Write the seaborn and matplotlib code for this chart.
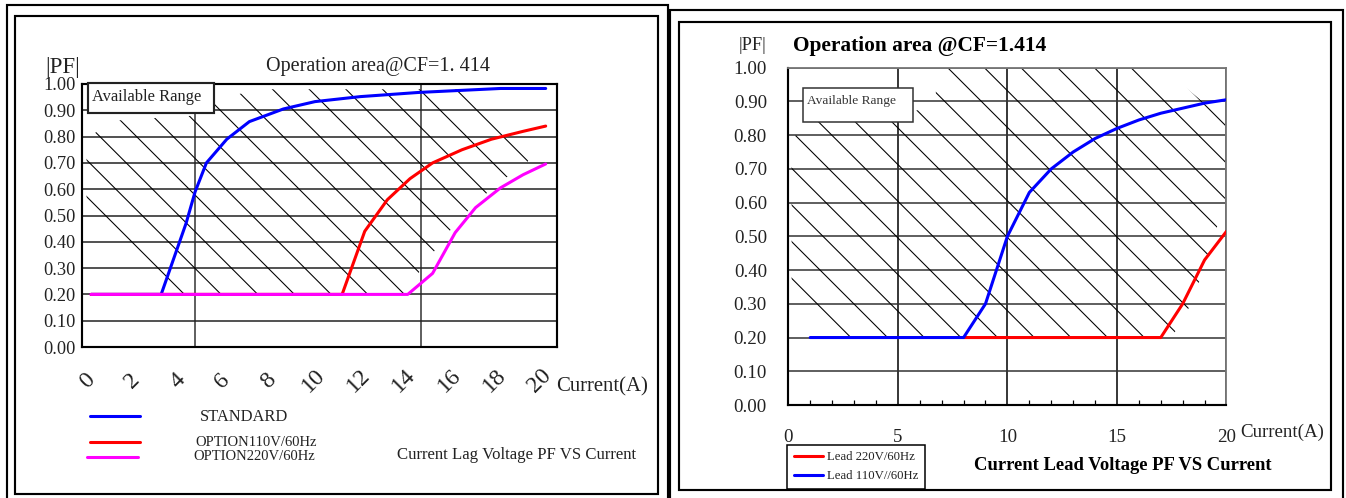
import numpy as np
import pandas as pd
import seaborn as sns
import matplotlib.pyplot as plt
import matplotlib.transforms as mtransforms
from matplotlib.patches import Rectangle
from matplotlib.lines import Line2D

# Left chart: current lag voltage PF vs current
std_x = [0.4, 3.5, 4.6, 5.0, 5.5, 6.4, 7.4, 8.9, 10.3, 12.3, 14.9, 18.5, 20.5]
std_y = [0.20, 0.20, 0.47, 0.59, 0.70, 0.79, 0.857, 0.905, 0.933, 0.952, 0.968, 0.983, 0.983]
opt110_x = [0.4, 11.5, 12.5, 13.5, 14.5, 15.5, 16.8, 18.1, 19.5, 20.5]
opt110_y = [0.20, 0.20, 0.44, 0.56, 0.64, 0.70, 0.75, 0.79, 0.82, 0.84]
opt220_x = [0.4, 14.4, 15.5, 16.5, 17.4, 18.5, 19.5, 20.5]
opt220_y = [0.20, 0.20, 0.28, 0.435, 0.53, 0.605, 0.655, 0.696]
lag_ticks = [0, 2, 4, 6, 8, 10, 12, 14, 16, 18, 20]
# outline of the hatched "available range"
lag_range_x = [0.2, 3.7, 14.4, 15.0, 16.6, 18.45, 19.6, 20.05, 17.2, 7.8, 6.15, 5.0, 1.3, 0.2]
lag_range_y = [0.49, 0.20, 0.20, 0.30, 0.48, 0.63, 0.685, 0.77, 0.98, 0.98, 0.945, 0.88, 0.86, 0.79]

# Right chart: current lead voltage PF vs current
lead110_x = [1, 2, 3, 4, 5, 6, 7, 8, 9, 10, 11, 12, 13, 14, 15, 16, 17, 18, 19, 20]
lead110_y = [0.20, 0.20, 0.20, 0.20, 0.20, 0.20, 0.20, 0.20, 0.30, 0.50,
             0.63, 0.70, 0.75, 0.79, 0.82, 0.845, 0.865, 0.88, 0.895, 0.905]
lead220_x = [8, 9, 10, 11, 12, 13, 14, 15, 16, 17, 18, 19, 20]
lead220_y = [0.20, 0.20, 0.20, 0.20, 0.20, 0.20, 0.20, 0.20, 0.20, 0.20, 0.30, 0.43, 0.515]
lead_ticks = [0, 5, 10, 15, 20]
lead_range_x = [0.15, 2.0, 17.5, 18.3, 19.2, 20.0, 20.0, 17.05, 6.8, 6.7, 5.7, 1.2, 0.15]
lead_range_y = [0.29, 0.20, 0.20, 0.29, 0.44, 0.63, 0.84, 1.0, 1.0, 0.89, 0.87, 0.84, 0.79]

pf_ticks = [0.0, 0.1, 0.2, 0.3, 0.4, 0.5, 0.6, 0.7, 0.8, 0.9, 1.0]

sns.set_style("white")
plt.rcParams["font.family"] = ["Liberation Serif", "DejaVu Serif"]
plt.rcParams["hatch.linewidth"] = 0.35
plt.rcParams["hatch.color"] = "black"

W, H, DPI = 1346, 498, 220
fig = plt.figure(figsize=(W / DPI, H / DPI), dpi=DPI)


def fx(px):
    return px / W


def fy(py):
    return 1 - py / H


# panel frames
for (x0, y0, x1, y1) in [(7, 5, 667.5, 501), (15, 16, 658, 494),
                         (670, 10, 1343.3, 501), (678.6, 21.7, 1330.8, 490)]:
    fig.add_artist(Rectangle((fx(x0), fy(y1)), fx(x1) - fx(x0), fy(y0) - fy(y1),
                             transform=fig.transFigure, fill=False, ec="black", lw=0.7))

# ---------------- left panel ----------------
ax1 = fig.add_axes([fx(82), fy(347), 475 / W, 263 / H])
ax1.fill(lag_range_x, lag_range_y, fill=False, hatch="\\\\", linewidth=0,
         edgecolor="black", zorder=1)
sns.lineplot(x=std_x, y=std_y, color="#0000ff", lw=1.0, ax=ax1, zorder=3)
sns.lineplot(x=opt110_x, y=opt110_y, color="#ff0000", lw=1.0, ax=ax1, zorder=3)
sns.lineplot(x=opt220_x, y=opt220_y, color="#ff00ff", lw=1.0, ax=ax1, zorder=3)

ax1.set_xlim(0, 21)
ax1.set_ylim(0, 1)
ax1.set_xticks(lag_ticks)
ax1.set_xticks([5, 10, 15, 20], minor=True)
ax1.set_yticks(pf_ticks)
ax1.set_yticklabels([f"{v:.2f}" for v in pf_ticks])
ax1.set_axisbelow(True)
ax1.grid(False)
ax1.yaxis.grid(True, color="#222222", lw=0.5)
ax1.xaxis.grid(True, which="minor", color="#555555", lw=0.6)
ax1.tick_params(axis="both", which="both", length=0)
ax1.tick_params(axis="y", pad=2, labelsize=6.0, colors="#222222")
ax1.tick_params(axis="x", pad=11, labelsize=7.8, labelrotation=45, colors="#222222")
shift = mtransforms.ScaledTranslation(5 / DPI, 0, fig.dpi_scale_trans)
for t in ax1.get_xticklabels():
    t.set_va("center")
    t.set_ha("center")
    t.set_transform(t.get_transform() + shift)
for s in ax1.spines.values():
    s.set_color("black")
    s.set_linewidth(0.7)
ax1.set_xlabel("")
ax1.set_ylabel("")
if ax1.get_legend() is not None:
    ax1.get_legend().remove()

ax1.add_patch(Rectangle((0.0133, 0.891), 0.265, 0.114, transform=ax1.transAxes,
                        fc="white", ec="#222222", lw=0.7, zorder=5, clip_on=False))
ax1.text(0.021, 0.952, "Available Range", transform=ax1.transAxes, fontsize=5.4,
         va="center", ha="left", color="#222222", zorder=6)

fig.text(fx(63), fy(67), "|PF|", fontsize=7.5, ha="center", va="center", color="#222222")
fig.text(fx(378), fy(66), "Operation area@CF=1. 414", fontsize=6.6,
         ha="center", va="center", color="#222222")
fig.text(fx(556), fy(387), "Current(A)", fontsize=6.8, ha="left", va="center", color="#222222")

for (x0, x1, yy, c) in [(90, 140, 415.7, "#0000ff"), (90, 140, 441.7, "#ff0000"),
                        (87, 138, 457.3, "#ff00ff")]:
    fig.add_artist(Line2D([fx(x0), fx(x1)], [fy(yy), fy(yy)], transform=fig.transFigure,
                          color=c, lw=1.0))
fig.text(fx(200), fy(417), "STANDARD", fontsize=5.4, ha="left", va="center", color="#222222")
fig.text(fx(195), fy(442.7), "OPTION110V/60Hz", fontsize=4.8, ha="left", va="center", color="#222222")
fig.text(fx(193), fy(456.7), "OPTION220V/60Hz", fontsize=4.8, ha="left", va="center", color="#222222")
fig.text(fx(397), fy(455), "Current Lag Voltage PF VS Current", fontsize=5.5,
         ha="left", va="center", color="#222222")

# ---------------- right panel ----------------
ax2 = fig.add_axes([fx(788.3), fy(405), 438.2 / W, 337.3 / H])
ax2.fill(lead_range_x, lead_range_y, fill=False, hatch="\\\\", linewidth=0,
         edgecolor="black", zorder=1)
sns.lineplot(x=lead220_x, y=lead220_y, color="#ff0000", lw=1.0, ax=ax2, zorder=3,
             label="Lead 220V/60Hz")
sns.lineplot(x=lead110_x, y=lead110_y, color="#0000ff", lw=1.0, ax=ax2, zorder=3,
             label="Lead 110V//60Hz")

ax2.set_xlim(0, 20)
ax2.set_ylim(0, 1)
ax2.set_xticks(lead_ticks)
ax2.set_xticks(range(1, 20), minor=True)
ax2.set_yticks(pf_ticks)
ax2.set_yticklabels([f"{v:.2f}" for v in pf_ticks])
ax2.set_axisbelow(True)
ax2.grid(False)
ax2.yaxis.grid(True, color="#333333", lw=0.5)
ax2.xaxis.grid(True, which="major", color="black", lw=0.5)
ax2.tick_params(axis="both", which="major", length=0)
ax2.tick_params(axis="x", which="minor", bottom=True, direction="in", length=1.6,
                width=0.4, color="black")
ax2.tick_params(axis="y", pad=7, labelsize=6.2, colors="#222222")
ax2.tick_params(axis="x", pad=10.8, labelsize=6.2, colors="#222222")
for t in ax2.get_xticklabels():
    t.set_va("center")
for side in ["left", "bottom"]:
    ax2.spines[side].set_color("black")
    ax2.spines[side].set_linewidth(0.7)
for side in ["top", "right"]:
    ax2.spines[side].set_color("#777777")
    ax2.spines[side].set_linewidth(0.6)
ax2.set_xlabel("")
ax2.set_ylabel("")

leg = ax2.legend(loc="upper left", bbox_to_anchor=(fx(787.3), fy(445)),
                 bbox_transform=fig.transFigure, fontsize=4.2, frameon=True,
                 fancybox=False, edgecolor="black", framealpha=1, handlelength=2.3,
                 handletextpad=0.3, borderpad=0.5, labelspacing=0.55, borderaxespad=0)
leg.get_frame().set_linewidth(0.5)
for t in leg.get_texts():
    t.set_color("#222222")

ax2.add_patch(Rectangle((0.033, 0.838), 0.252, 0.103, transform=ax2.transAxes,
                        fc="white", ec="#333333", lw=0.5, zorder=5, clip_on=False))
ax2.text(0.042, 0.901, "Available Range", transform=ax2.transAxes, fontsize=4.4,
         va="center", ha="left", color="#333333", zorder=6)

fig.text(fx(753), fy(46), "|PF|", fontsize=6, ha="center", va="center", color="#222222")
fig.text(fx(793), fy(46), "Operation area @CF=1.414", fontsize=7, fontweight="bold",
         ha="left", va="center", color="black")
fig.text(fx(1240.7), fy(432), "Current(A)", fontsize=6.2, ha="left", va="center", color="#222222")
fig.text(fx(974), fy(465), "Current Lead Voltage PF VS Current", fontsize=6.1,
         fontweight="bold", ha="left", va="center", color="black")

fig.savefig("out.png", dpi=DPI)
